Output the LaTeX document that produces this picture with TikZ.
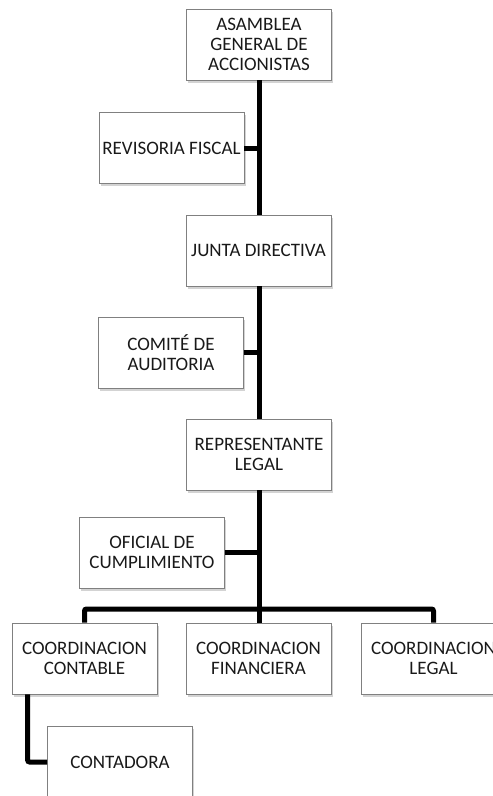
\documentclass[tikz,border=0pt]{standalone}
\usepackage{fontspec}
\setmainfont{Carlito}
\usetikzlibrary{shadows}
\newcommand\orgtextstyle{\fontsize{19}{20}\selectfont}
\newcommand\orgboxwidth{145pt}
\newcommand\orgboxheight{71pt}
\newcommand\orglinewidth{5pt}
\tikzset{
  orgbox/.style={draw=gray, line width=0.8pt, fill=white, text=black!90,
    minimum width=\orgboxwidth, minimum height=\orgboxheight,
    align=center, inner sep=0pt, font=\orgtextstyle,
    drop shadow={shadow xshift=1.5pt, shadow yshift=-2.5pt, opacity=0.35}},
  orgline/.style={line width=\orglinewidth, rounded corners=2pt}
}
\begin{document}
\begin{tikzpicture}[x=1pt, y=-1pt]
    \clip (0,0) rectangle (493,796);
    % main chain
    \node[orgbox] (asamblea) at (259,44.5) {ASAMBLEA\\GENERAL DE\\ACCIONISTAS};
    \node[orgbox] (junta) at (258.5,250.5) {JUNTA DIRECTIVA};
    \node[orgbox] (representante) at (259,454.5) {REPRESENTANTE\\LEGAL};
    % side boxes
    \node[orgbox] (revisoria) at (171.5,148) {REVISORIA FISCAL};
    \node[orgbox] (comite) at (171,352.5) {COMITÉ DE\\AUDITORIA};
    \node[orgbox] (oficial) at (152,552.5) {OFICIAL DE\\CUMPLIMIENTO};
    % coordinations
    \node[orgbox] (contable) at (84.5,658.5) {COORDINACION\\CONTABLE};
    \node[orgbox] (financiera) at (258.5,658.5) {COORDINACION\\FINANCIERA};
    \node[orgbox] (legal) at (433.5,658.5) {COORDINACION\\LEGAL};
    \node[orgbox] (contadora) at (120,762) {CONTADORA};
    \coordinate (bar) at (259,609);
    % connectors
    \draw[orgline] (asamblea.south) -- (junta.north -| asamblea.south) ;
    \draw[orgline] (junta.south -| asamblea.south) -- (representante.north) ;
    \draw[orgline] (representante.south) -- (bar) ;
    \draw[orgline] (revisoria.east) -- (revisoria.east -| asamblea.south) ;
    \draw[orgline] (comite.east) -- (comite.east -| asamblea.south) ;
    \draw[orgline] (oficial.east) -- (oficial.east -| asamblea.south) ;
    \draw[orgline] (contable.north) |- (bar) -| (legal.north) ;
    \draw[orgline] (bar) -- (financiera.north -| bar) ;
    \draw[orgline] ([xshift=16pt]contable.south west) |- (contadora.west) ;
\end{tikzpicture}
\end{document}
